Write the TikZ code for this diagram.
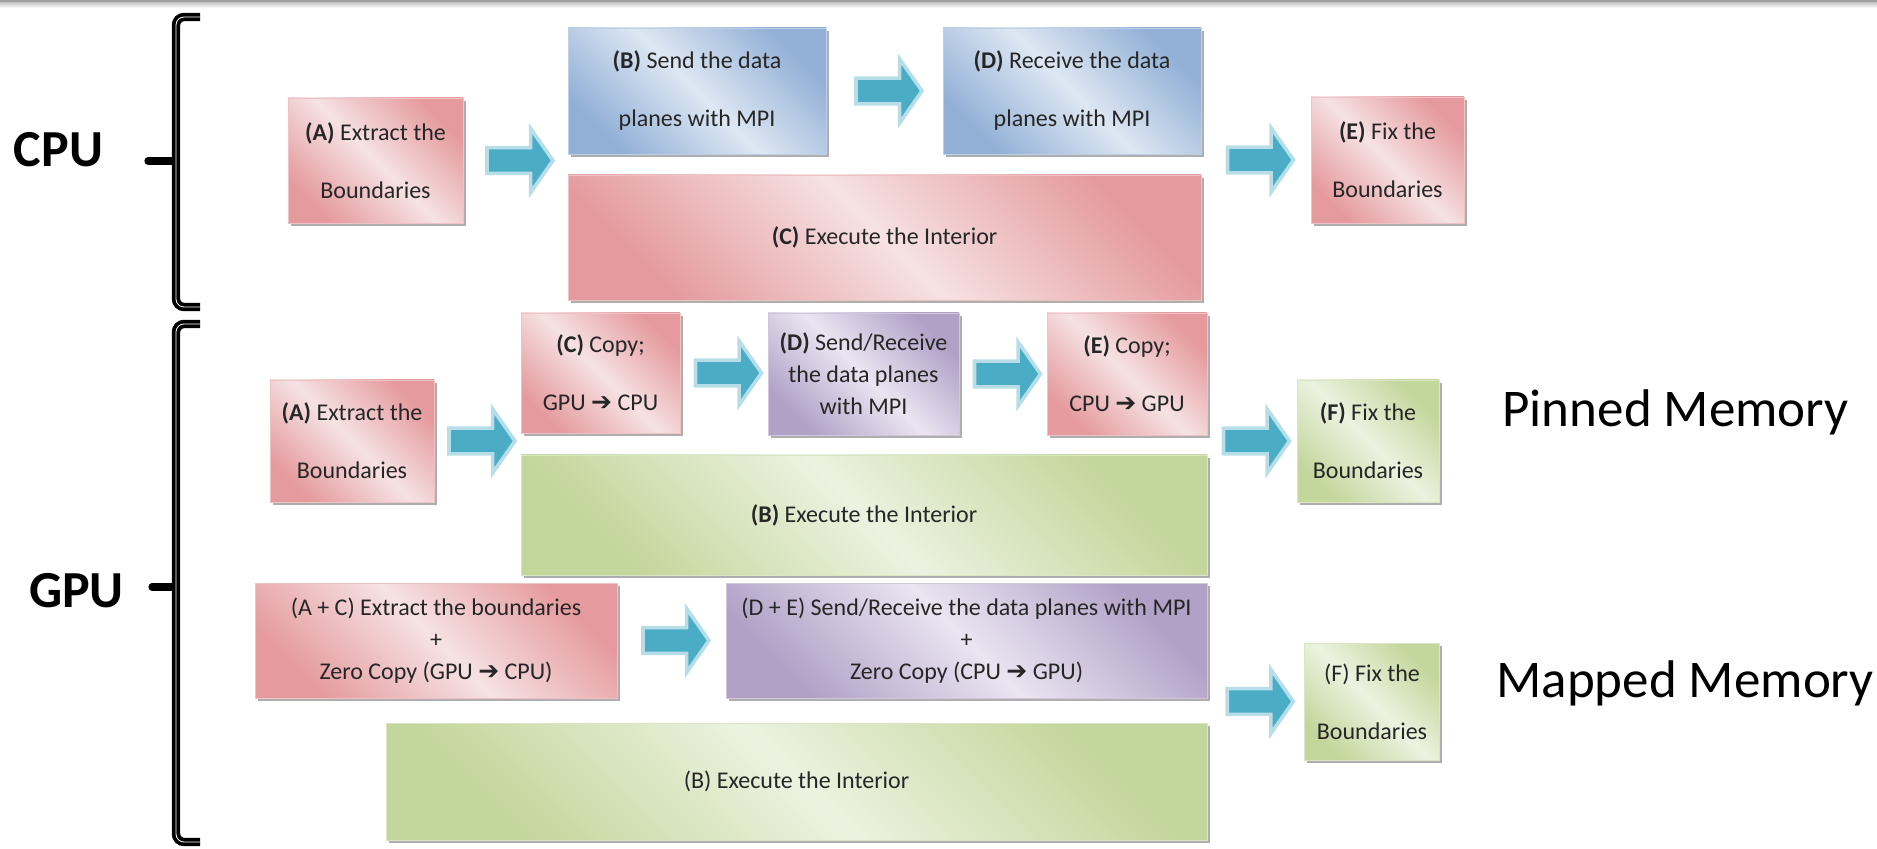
\documentclass[tikz,border=0pt]{standalone}
\usepackage{fontspec}
\setmainfont{Carlito}
\newfontfamily\arrowfont{DejaVu Sans}
\usetikzlibrary{calc,shapes.arrows,shadows}

\definecolor{roseD}{RGB}{229,155,158}
\definecolor{roseL}{RGB}{246,226,227}
\definecolor{skyD}{RGB}{146,176,214}
\definecolor{skyL}{RGB}{222,231,243}
\definecolor{lilacD}{RGB}{178,161,199}
\definecolor{lilacL}{RGB}{234,229,241}
\definecolor{leafD}{RGB}{195,214,155}
\definecolor{leafL}{RGB}{236,242,224}
\definecolor{aquaT}{RGB}{75,172,198}
\definecolor{aquaL}{RGB}{183,222,232}

\newcommand{\cparrow}{{\arrowfont\fontsize{12.5}{12}\selectfont\symbol{"2794}}}

\tikzset{
  stage/.style={shade, top color=#1D, bottom color=#1D, middle color=#1L,
    shading angle=-45, draw=#1D!60!white, line width=0.4pt, align=center,
    text=black!85, inner sep=3pt,
    drop shadow={shadow xshift=1.3pt, shadow yshift=-1.5pt, fill=black!45, opacity=0.7}},
  wideskip/.style={font=\fontsize{12}{29}\selectfont},
  narrowskip/.style={font=\fontsize{12}{16}\selectfont},
  bigarrow/.style={single arrow, draw=aquaL, line width=1.8pt, fill=aquaT,
    minimum height=33pt, minimum width=32pt, single arrow head extend=9.5pt,
    single arrow tip angle=110, inner xsep=0pt, inner ysep=5.5pt},
  bracketline/.style={line width=1.9pt, double=white, double distance=0.4pt, rounded corners=4pt},
  brackettip/.style={line width=3.6pt, line cap=round},
  side/.style={inner sep=0pt, font=\fontsize{26}{30}\selectfont\bfseries},
  mem/.style={inner sep=0pt, anchor=base west, font=\fontsize{26.5}{32}\selectfont}
}

\begin{document}
\begin{tikzpicture}[x=1pt, y=-1pt]
  \useasboundingbox (0,0) rectangle (938.5,424.5);
  % top rule
  \fill[gray!75] (0,0) rectangle (938.5,1.5);
  \shade[top color=gray!40, bottom color=white] (0,1.5) rectangle (938.5,4);

  % brackets and side labels
  \node[side, anchor=base] (cpu) at (29.25,83.5) {CPU};
  \node[side, anchor=base] (gpu) at (38.25,303.5) {GPU};
  \draw[brackettip] (74,80.5) -- (88,80.5);
  \draw[bracketline] (100,8.5) -- (88,8.5) -- (88,153.5) -- (100,153.5);
  \draw[brackettip] (76,293.5) -- (88,293.5);
  \draw[bracketline] (100,162) -- (88,162) -- (88,421) -- (100,421);

  % CPU
  \node[stage=rose, wideskip, minimum width=87.5pt, minimum height=62.5pt] (cA) at (187.75,80.25) {\textbf{(A)} Extract the\\Boundaries};
  \node[stage=sky, wideskip, minimum width=129pt, minimum height=63pt] (cB) at (348.5,45.5) {\textbf{(B)} Send the data\\planes with MPI};
  \node[stage=sky, wideskip, minimum width=129pt, minimum height=63pt] (cD) at (536,45.5) {\textbf{(D)} Receive the data\\planes with MPI};
  \node[stage=rose, wideskip, minimum width=316.5pt, minimum height=62.5pt] (cC) at (442.25,118.75) {\textbf{(C)} Execute the Interior};
  \node[stage=rose, wideskip, minimum width=76.5pt, minimum height=63pt] (cE) at (693.75,80) {\textbf{(E)} Fix the\\Boundaries};

  \node[bigarrow] (cAB) at ($(cA.east)!.5!(cA.east -| cB.west)$) {};
  \node[bigarrow] (cBD) at ($(cB.east)!.5!(cD.west)$) {};
  \node[bigarrow] (cDE) at ($(cE.west)!.5!(cE.west -| cD.east)$) {};

  % GPU, pinned memory
  \node[stage=rose, wideskip, minimum width=82pt, minimum height=61pt] (pA) at (176,220.5) {\textbf{(A)} Extract the\\Boundaries};
  \node[stage=rose, wideskip, minimum width=79.5pt, minimum height=60pt] (pC) at (300.25,186.5) {\textbf{(C)} Copy;\\GPU \cparrow{} CPU};
  \node[stage=lilac, narrowskip, minimum width=95.5pt, minimum height=61pt] (pD) at (431.75,187) {\textbf{(D)} Send/Receive\\the data planes\\with MPI};
  \node[stage=rose, wideskip, minimum width=80pt, minimum height=61pt] (pE) at (563.5,187) {\textbf{(E)} Copy;\\CPU \cparrow{} GPU};
  \node[stage=leaf, wideskip, minimum width=343pt, minimum height=60pt] (pB) at (432,257.5) {\textbf{(B)} Execute the Interior};
  \node[stage=leaf, wideskip, minimum width=71pt, minimum height=61pt] (pF) at (684,220.5) {\textbf{(F)} Fix the\\Boundaries};
  \node[mem] (pinned) at (751,213.5) {Pinned Memory};

  \node[bigarrow] (pAC) at ($(pA.east)!.5!(pA.east -| pC.west)$) {};
  \node[bigarrow] (pCD) at ($(pC.east)!.5!(pC.east -| pD.west)$) {};
  \node[bigarrow] (pDE) at ($(pD.east)!.5!(pD.east -| pE.west)$) {};
  \node[bigarrow] (pEF) at ($(pF.west)!.5!(pF.west -| pE.east)$) {};

  % GPU, mapped memory
  \node[stage=rose, narrowskip, minimum width=181pt, minimum height=57.5pt] (mA) at (218,320.25) {(A + C) Extract the boundaries\\+\\Zero Copy (GPU \cparrow{} CPU)};
  \node[stage=lilac, narrowskip, minimum width=240.5pt, minimum height=57.5pt] (mD) at (483.25,320.25) {(D + E) Send/Receive the data planes with MPI\\+\\Zero Copy (CPU \cparrow{} GPU)};
  \node[stage=leaf, wideskip, minimum width=410.5pt, minimum height=58.5pt] (mB) at (398.25,390.75) {(B) Execute the Interior};
  \node[stage=leaf, wideskip, minimum width=67.5pt, minimum height=58.5pt] (mF) at (686,350.75) {(F) Fix the\\Boundaries};
  \node[mem] (mapped) at (748,348.5) {Mapped Memory};

  \node[bigarrow] (mAD) at ($(mA.east)!.5!(mD.west)$) {};
  \node[bigarrow] (mDF) at ($(mF.west)!.5!(mF.west -| mD.east)$) {};
\end{tikzpicture}
\end{document}
